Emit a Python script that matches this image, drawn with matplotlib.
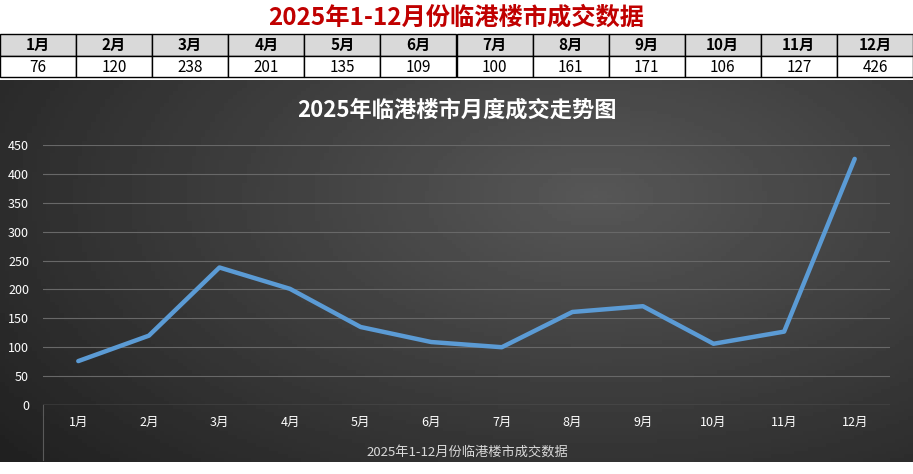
import numpy as np
import matplotlib
matplotlib.use("Agg")
import matplotlib.pyplot as plt
from matplotlib.patches import Rectangle

plt.rcParams['font.family'] = ['Noto Sans CJK SC', 'DejaVu Sans']

months = ["1月","2月","3月","4月","5月","6月","7月","8月","9月","10月","11月","12月"]
values = [76,120,238,201,135,109,100,161,171,106,127,426]
title_top = "2025年1-12月份临港楼市成交数据"
chart_title = "2025年临港楼市月度成交走势图"
x_label = "2025年1-12月份临港楼市成交数据"
yticks = [0,50,100,150,200,250,300,350,400,450]

W, H = 913, 474
fig = plt.figure(figsize=(W/100, H/100), dpi=100)
bg = fig.add_axes([0,0,1,1]); bg.set_xlim(0,W); bg.set_ylim(H,0); bg.axis('off')

y0, y1 = 80, 462
yy, xx = np.mgrid[0:100, 0:200]
d = np.sqrt(((xx-130)/150.0)**2 + ((yy-30)/95.0)**2)
img = np.clip(0.34 - 0.19*d, 0.12, 0.34)
bg.imshow(img, cmap='gray', vmin=0, vmax=1, extent=[0, W, y1, y0], aspect='auto', zorder=0)

bg.text(W/2, 18, title_top, color='#c00000', fontsize=17.5, fontweight='bold', ha='center', va='center')
cw = W/12
for i,(m,v) in enumerate(zip(months, values)):
    bg.add_patch(Rectangle((i*cw, 34), cw, 22, facecolor='#d9d9d9', edgecolor='black', lw=1, zorder=2))
    bg.add_patch(Rectangle((i*cw, 56), cw, 21, facecolor='white', edgecolor='black', lw=1, zorder=2))
    bg.text(i*cw+cw/2, 45, m, fontsize=11, fontweight='bold', ha='center', va='center', zorder=3)
    bg.text(i*cw+cw/2, 67, str(v), fontsize=11, ha='center', va='center', zorder=3)

bg.text(W/2, 110, chart_title, color='white', fontsize=16, fontweight='bold', ha='center', va='center')
bg.text(467, 452, x_label, color='#d9d9d9', fontsize=9.5, ha='center', va='center')

ax = fig.add_axes([43/W, 1-405/H, (890-43)/W, (405-145)/H])
ax.patch.set_alpha(0)
x = np.arange(len(months))
ax.plot(x, values, color='#5b9bd5', lw=3.2, solid_capstyle='round', solid_joinstyle='round')
ax.set_xlim(-0.5, 11.5)
ax.set_ylim(0, 450)
ax.set_yticks(yticks)
ax.set_yticklabels([str(t) for t in yticks], color='white', fontsize=9)
ax.set_xticks(x)
ax.set_xticklabels(months, color='white', fontsize=9)
ax.tick_params(length=0, pad=10)
ax.tick_params(axis='x', pad=8)
ax.grid(axis='y', color='#686868', lw=0.8)
for s in ax.spines.values():
    s.set_visible(False)
ax.axhline(0, color='#686868', lw=1)
bg.plot([43,43],[405,460], color='#5a5a5a', lw=0.8)
fig.savefig("out.png", dpi=100)
